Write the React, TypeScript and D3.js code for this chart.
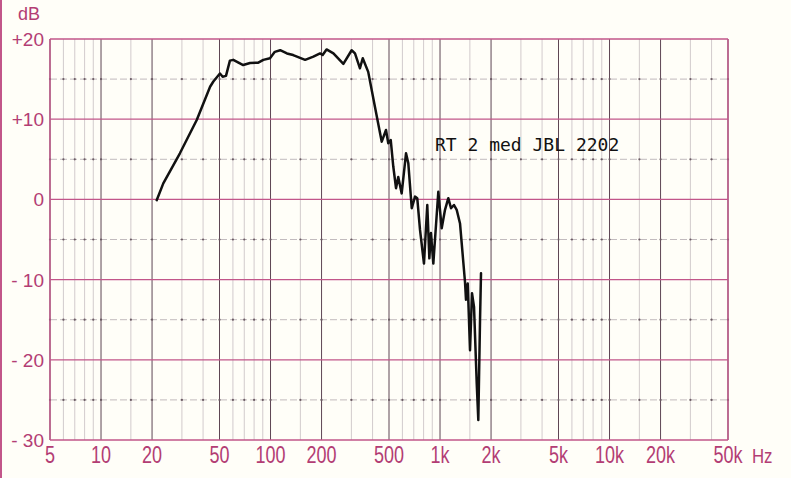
import React from 'react';
import * as d3 from 'd3';

// Frequency response trace (Hz, dB)
const freqHz = [
  21.3, 23.3, 29.2, 36.7, 44, 46, 50.3, 52.2, 54.6, 57.6, 60.3, 69, 75.7, 84.7, 90.7, 99.3,
  106, 114, 125, 136, 160, 179, 196, 203, 214, 235, 269, 301, 315, 337, 350, 377, 413, 453,
  480, 495, 512, 530, 550, 567, 594, 630, 650, 681, 712, 734, 762, 804, 841, 865, 884, 913,
  977, 1023, 1070, 1119, 1161, 1209, 1254, 1312, 1404, 1423, 1457, 1503, 1544, 1587, 1646,
  1682, 1722, 1745,
];
const levelDb = [
  -0.1, 2.0, 5.75, 9.9, 14.05, 14.7, 15.7, 15.3, 15.4, 17.3, 17.4, 16.75, 17.0, 17.05, 17.4, 17.6,
  18.4, 18.6, 18.2, 18.0, 17.4, 17.8, 18.2, 18.0, 18.7, 18.2, 16.9, 18.6, 18.2, 16.35, 17.6, 15.9,
  11.55, 7.2, 8.65, 7.0, 7.4, 4.1, 1.4, 2.8, 0.75, 5.75, 4.5, -1.1, 0.35, 0.15, -3.8, -8.0, -0.7,
  -7.35, -4.2, -8.0, 0.95, -3.6, -1.3, 0.15, -1.1, -0.7, -1.3, -3.0, -10.3, -12.5, -10.5, -18.8,
  -11.7, -13.4, -22.9, -27.5, -15.0, -9.2,
];

const yTicks = [20, 10, 0, -10, -20, -30];
const yTickLabels = ['+20', '+10', '0', '- 10', '- 20', '- 30'];
const yMinorTicks = [15, 5, -5, -15, -25];
const xTicks = [5, 10, 20, 50, 100, 200, 500, 1000, 2000, 5000, 10000, 20000, 50000];
const xTickLabels = ['5', '10', '20', '50', '100', '200', '500', '1k', '2k', '5k', '10k', '20k', '50k'];
const decades = [1, 10, 100, 1000, 10000];
const gridMultipliers = [1, 1.5, 2, 3, 4, 5, 6, 7, 8, 9];
const majorMultipliers = [1, 2, 5];
const curveLabel = 'RT 2 med JBL 2202';
const yUnit = 'dB';
const xUnit = 'Hz';

const W = 791;
const H = 478;
const MAG = '#c2568a';
const MAG_TEXT = '#b33d74';
const BG = '#fffef8';

export default function App() {
  const x = d3.scaleLog().domain([5, 50000]).range([50, 728]);
  const y = d3.scaleLinear().domain([-30, 20]).range([440, 39]);

  const vLines: { f: number; major: boolean }[] = [];
  decades.forEach((d) =>
    gridMultipliers.forEach((m) => {
      const f = d * m;
      if (f >= 5 && f <= 50000) vLines.push({ f, major: majorMultipliers.includes(m) });
    })
  );

  const pts = freqHz.map((f, i) => [f, levelDb[i]] as [number, number]);
  const line = d3
    .line<[number, number]>()
    .x((d) => x(d[0]))
    .y((d) => y(d[1]))
    .curve(d3.curveLinear);

  const [x0, x1] = x.range();
  const [y0, y1] = y.range();

  return (
    <svg width={W} height={H} style={{ position: 'absolute', left: 0, top: 0, background: BG }}>
      <rect x={0} y={0} width={W} height={H} fill={BG} />
      <line x1={1} x2={1} y1={0} y2={H} stroke={MAG} strokeWidth={2} />

      {/* minor horizontal lines */}
      {yMinorTicks.map((t) => (
        <line
          key={'ym' + t}
          x1={x0}
          x2={x1}
          y1={y(t)}
          y2={y(t)}
          stroke="#b3a9ae"
          strokeWidth={0.8}
          strokeDasharray="7 3"
        />
      ))}

      {/* vertical grid */}
      {vLines.map((v) => (
        <line
          key={'v' + v.f}
          x1={x(v.f)}
          x2={x(v.f)}
          y1={y1}
          y2={y0}
          stroke={v.major ? '#5e4654' : '#c6bec2'}
          strokeWidth={v.major ? 1 : 0.8}
        />
      ))}

      {/* major horizontal magenta lines */}
      {yTicks.map((t) => (
        <line key={'y' + t} x1={x0} x2={x1} y1={y(t)} y2={y(t)} stroke={MAG} strokeWidth={1.3} />
      ))}

      {/* intersection dots on minor lines */}
      {yMinorTicks.map((t) =>
        vLines.map((v) => (
          <circle key={'d' + t + '-' + v.f} cx={x(v.f)} cy={y(t)} r={1.1} fill="#6a5a62" />
        ))
      )}

      {/* frame */}
      <line x1={x0} x2={x0} y1={y1} y2={y0} stroke={MAG} strokeWidth={1.4} />
      <line x1={x1} x2={x1} y1={y1} y2={y0} stroke={MAG} strokeWidth={1.4} />

      {/* curve */}
      <path
        d={line(pts) || ''}
        fill="none"
        stroke="#111"
        strokeWidth={2.5}
        strokeLinejoin="round"
        strokeLinecap="round"
      />

      {/* y labels */}
      {yTicks.map((t, i) => (
        <text
          key={'yl' + t}
          x={44}
          y={y(t) + 7}
          textAnchor="end"
          fontFamily="Liberation Sans, Arial, sans-serif"
          fontSize={19}
          fill={MAG_TEXT}
        >
          {yTickLabels[i]}
        </text>
      ))}
      <text x={18} y={20} fontFamily="Liberation Sans, Arial, sans-serif" fontSize={18} fill={MAG_TEXT}>
        {yUnit}
      </text>

      {/* x labels */}
      {xTicks.map((t, i) => (
        <text
          key={'xl' + t}
          transform={`translate(${x(t)},463) scale(0.75,1)`}
          textAnchor="middle"
          fontFamily="Liberation Sans, Arial, sans-serif"
          fontSize={24}
          fill={MAG_TEXT}
        >
          {xTickLabels[i]}
        </text>
      ))}
      <text
        transform="translate(752,463) scale(0.8,1)"
        fontFamily="Liberation Sans, Arial, sans-serif"
        fontSize={21}
        fill={MAG_TEXT}
      >
        {xUnit}
      </text>

      {/* curve annotation */}
      <text x={435} y={151} fontFamily="DejaVu Sans Mono, monospace" fontSize={18} fill="#111">
        {curveLabel}
      </text>
    </svg>
  );
}
